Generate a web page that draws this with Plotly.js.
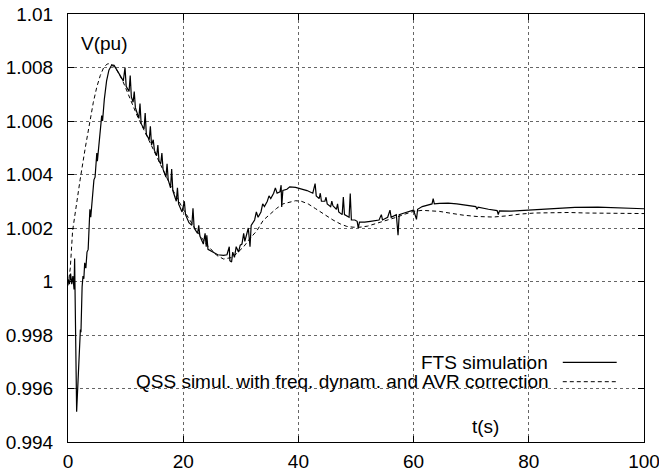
<!DOCTYPE html>
<html>
<head>
<meta charset="utf-8">
<script src="https://cdn.plot.ly/plotly-3.0.1.min.js"></script>
<style>html,body{margin:0;padding:0;background:#fff;}#chart{width:659px;height:475px;}</style>
</head>
<body>
<div id="chart"></div>
<script>
// FTS simulation (solid)
var ftsT = [0,0.25,0.45,0.65,0.85,1.05,1.15,1.25,1.5,2.0,2.15,2.25,2.45,2.6,2.75,2.9,3.1,3.3,3.5,3.65,3.8,3.95,4.2,4.5,4.7,4.9,5.0,5.1,5.3,5.6,5.85,6.0,6.3,6.7,7.1,7.6,8.0,8.5,9.0,9.6,9.9,10.1,10.6,10.8,11.0,11.3,11.5,11.7,12.3,12.5,12.7,13.2,13.4,13.6,14.1,14.3,14.5,14.8,15.0,15.4,15.6,15.8,16.1,16.3,16.5,17.0,17.2,17.4,17.8,18.0,18.2,18.8,19.0,19.2,19.8,20.2,20.4,21.0,21.5,21.7,21.9,22.5,22.7,22.9,23.5,23.8,24.0,24.1,24.3,25.2,26.0,27.0,27.6,28.0,28.1,28.4,28.6,28.9,29.2,29.6,29.9,30.2,30.5,30.7,31.0,31.3,31.6,31.8,32.4,32.7,33.0,33.5,33.8,34.1,34.6,34.9,35.2,35.7,36.0,36.3,36.8,37.0,37.1,37.3,38.0,38.5,39.5,40.3,41.5,42.5,42.9,43.1,43.6,43.8,44.0,44.6,44.8,45.0,45.6,45.8,46.0,46.6,46.8,47.0,47.6,47.8,48.0,48.8,49.0,49.2,49.8,50.2,50.4,50.6,51.5,52.5,53.5,54.0,54.4,54.6,55.5,55.9,56.1,57.0,57.3,57.5,58.5,59.5,60.0,60.5,60.7,61.5,62.5,63.2,63.4,63.6,64.5,66,67.5,69,70.8,71.0,71.2,73,74.5,74.7,74.9,77,80,84,88,92,96,100];
var ftsV = [1.0001,0.9999,1.0003,0.9999,1.0002,0.9997,1.00086,0.9990,0.99513,0.9975,0.9982,0.9981,0.9998,1.0002,1.0001,1.0007,1.0005,1.0011,1.0012,1.0020,1.0027,1.0024,1.0032,1.0038,1.0039,1.0046,1.0048,1.0045,1.0050,1.0056,1.0062,1.0060,1.0068,1.0075,1.0079,1.0081,1.00808,1.0079,1.0077,1.0075,1.0080,1.0073,1.0071,1.0077,1.0069,1.0067,1.0071,1.0065,1.0061,1.00665,1.0059,1.0057,1.0063,1.0055,1.0053,1.0058,1.0051,1.0053,1.0049,1.0047,1.0051,1.0045,1.0044,1.0048,1.0042,1.0039,1.0044,1.0038,1.0035,1.0042,1.0034,1.0030,1.0035,1.0029,1.0026,1.0030,1.0025,1.0022,1.0021,1.00274,1.0020,1.0018,1.0021,1.0017,1.0014,1.0018,1.0013,1.00173,1.0012,1.0011,1.0010,1.00098,1.0010,1.0013,1.00078,1.00073,1.0011,1.0009,1.0013,1.0011,1.00136,1.0014,1.0018,1.0015,1.0018,1.0020,1.0013,1.0021,1.0023,1.0026,1.0024,1.0026,1.0029,1.0028,1.0030,1.0032,1.0031,1.0033,1.0035,1.0033,1.00335,1.0036,1.00279,1.0034,1.00345,1.00354,1.00352,1.00348,1.0034,1.0033,1.00366,1.0032,1.0031,1.0033,1.0030,1.0030,1.00315,1.0029,1.0028,1.00300,1.00283,1.0027,1.0029,1.0026,1.0025,1.00316,1.0025,1.0024,1.00329,1.0023,1.0023,1.00225,1.0020,1.00222,1.00222,1.00225,1.0023,1.0023,1.0025,1.0023,1.0024,1.00267,1.0024,1.0025,1.00173,1.0025,1.00257,1.00265,1.00267,1.00232,1.0027,1.0028,1.00285,1.0029,1.0031,1.0029,1.00292,1.00293,1.0029,1.00285,1.0028,1.0027,1.00278,1.0027,1.00265,1.0025,1.00264,1.00263,1.00267,1.00273,1.00277,1.00278,1.00276,1.00272];

// QSS simulation (dashed)
var qssT = [0,0.4,0.8,1.2,1.6,2.1,3.0,3.8,4.4,5.0,5.6,6.2,6.8,7.3,7.9,8.5,9.5,10.5,12,14,16,18,20,22,24,25.8,27.0,27.6,28.5,29.3,30.5,31.6,32.8,33.9,35,36.2,37.3,38.5,39.5,40.5,41.7,43,44.5,46,47.3,48.4,49.5,50.7,52,53.6,55.5,57,58.5,60,61.5,63,64.5,66.5,68.6,71,73.8,76,78.5,81,84.3,87,90,95,100];
var qssV = [0.99985,1.0005,1.0019,1.0025,1.0030,1.0038,1.0050,1.0060,1.0067,1.00727,1.0077,1.0080,1.00813,1.00815,1.00802,1.0079,1.0075,1.0070,1.0062,1.0053,1.0044,1.0035,1.0027,1.0020,1.0014,1.00098,1.00084,1.00086,1.0009,1.00105,1.0013,1.00161,1.0019,1.00229,1.0025,1.00273,1.0029,1.00298,1.00302,1.003,1.0029,1.00272,1.0025,1.0023,1.00215,1.00206,1.00203,1.00203,1.00207,1.00217,1.0023,1.0024,1.00252,1.00262,1.00266,1.00265,1.00262,1.00255,1.00248,1.00243,1.00241,1.00245,1.00252,1.00256,1.00258,1.00258,1.00256,1.00255,1.00254];

var xTicks = [0,20,40,60,80,100];
var yTicks = [0.994,0.996,0.998,1,1.002,1.004,1.006,1.008,1.01];
var yTickText = ['0.994','0.996','0.998','1','1.002','1.004','1.006','1.008','1.01'];
var seriesNames = ['FTS simulation','QSS simul. with freq. dynam. and AVR correction'];

var FONT = 'Liberation Sans, Arial, Helvetica, sans-serif';
var FS = 19;

var traces = [
  {x: ftsT, y: ftsV, type: 'scatter', mode: 'lines', name: seriesNames[0],
   line: {color: '#000', width: 1.2}},
  {x: qssT, y: qssV, type: 'scatter', mode: 'lines', name: seriesNames[1],
   line: {color: '#000', width: 1, dash: '4px,3px'}}
];

var axisCommon = {
  showline: true, linecolor: '#000', linewidth: 1, mirror: 'ticks',
  ticks: 'inside', ticklen: 6, tickcolor: '#000', tickwidth: 1,
  showgrid: true, gridcolor: '#666', griddash: 'dot', gridwidth: 1,
  zeroline: false, tickfont: {family: FONT, size: FS, color: '#000'},
  ticklabeloverflow: 'allow', fixedrange: true
};

var layout = {
  width: 659, height: 475,
  margin: {l: 68, r: 15, t: 14, b: 33, pad: 0},
  paper_bgcolor: '#fff', plot_bgcolor: '#fff',
  showlegend: false,
  font: {family: FONT, size: FS, color: '#000'},
  xaxis: Object.assign({}, axisCommon, {range: [0, 100], tickvals: xTicks, ticklabelstandoff: 2}),
  yaxis: Object.assign({}, axisCommon, {range: [0.994, 1.01], tickvals: yTicks, ticktext: yTickText, ticklabelstandoff: 10}),
  shapes: [
    {type: 'rect', xref: 'paper', yref: 'paper', x0: 0.09, x1: 0.972, y0: 0.112, y1: 0.210,
     fillcolor: '#fff', line: {width: 0}, layer: 'between'},
    {type: 'line', xref: 'paper', yref: 'paper', x0: 0.859, x1: 0.9526, y0: 0.1862, y1: 0.1862,
     line: {color: '#000', width: 1.2}},
    {type: 'line', xref: 'paper', yref: 'paper', x0: 0.859, x1: 0.9526, y0: 0.1409, y1: 0.1409,
     line: {color: '#000', width: 1, dash: '4px,3px'}}
  ],
  annotations: [
    {text: 'V(pu)', xref: 'paper', yref: 'paper', x: 0.0195, y: 0.932, xanchor: 'left', yanchor: 'middle', showarrow: false, font: {family: FONT, size: FS, color: '#000'}},
    {text: 't(s)', xref: 'paper', yref: 'paper', x: 0.698, y: 0.0357, xanchor: 'left', yanchor: 'middle', showarrow: false, font: {family: FONT, size: FS, color: '#000'}},
    {text: seriesNames[0], xref: 'paper', yref: 'paper', x: 0.836, y: 0.1857, xanchor: 'right', yanchor: 'middle', showarrow: false, font: {family: FONT, size: FS, color: '#000'}},
    {text: seriesNames[1], xref: 'paper', yref: 'paper', x: 0.838, y: 0.1402, xanchor: 'right', yanchor: 'middle', showarrow: false, font: {family: FONT, size: FS, color: '#000'}}
  ]
};

Plotly.newPlot('chart', traces, layout, {staticPlot: true, displayModeBar: false});
</script>
</body>
</html>
